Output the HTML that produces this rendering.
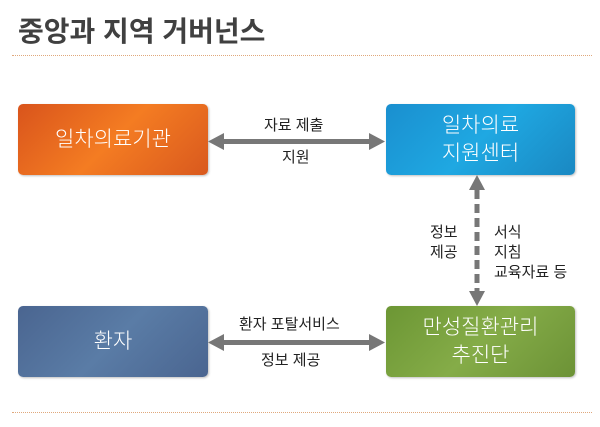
<!DOCTYPE html>
<html><head><meta charset="utf-8"><style>
body{margin:0;width:600px;height:427px;background:#fff;overflow:hidden;position:relative;font-family:"Liberation Sans","Noto Sans CJK KR",sans-serif;}
.t{position:absolute;left:18px;top:10px;font-size:28px;font-weight:bold;color:#404040;letter-spacing:0px;}
.dot{position:absolute;left:12px;width:580px;border-top:1.5px dotted #e0a87c;}
.b{position:absolute;border-radius:5px;color:#fff;font-size:21px;font-weight:300;display:flex;align-items:center;justify-content:center;text-align:center;line-height:28px;box-shadow:1px 1px 2px rgba(0,0,0,.25);}
.l{position:absolute;font-size:15px;color:#222;line-height:20px;}
</style></head><body>
<div class="t">중앙과 지역 거버넌스</div>
<div class="dot" style="top:55px"></div>
<div class="dot" style="top:412px"></div>
<div class="b" style="left:18px;top:104px;width:190px;height:71px;background:linear-gradient(135deg,#d9541c,#f47c22 50%,#d9591e)">일차의료기관</div>
<div class="b" style="left:386px;top:104px;width:189px;height:71px;background:linear-gradient(135deg,#1a8fcf,#1fa8e2 50%,#1a88c2)">일차의료<br>지원센터</div>
<div class="b" style="left:18px;top:306px;width:190px;height:71px;background:linear-gradient(135deg,#4a6590,#5a7ca6 50%,#4a6590)">환자</div>
<div class="b" style="left:386px;top:306px;width:189px;height:71px;background:linear-gradient(135deg,#6c9634,#85ac48 50%,#6c9236)">만성질환관리<br>추진단</div>
<svg width="600" height="427" style="position:absolute;left:0;top:0">
<g fill="#777" stroke="none">
<rect x="222" y="139" width="150" height="5"/>
<polygon points="208,141.5 224,133 224,150"/>
<polygon points="385,141.5 369,133 369,150"/>
<rect x="222" y="340" width="150" height="5"/>
<polygon points="208,342.5 224,334 224,351"/>
<polygon points="385,342.5 369,334 369,351"/>
<polygon points="477,175 469,190 485,190"/>
<polygon points="477,306 469,291 485,291"/>
</g>
<line x1="477" y1="190" x2="477" y2="291" stroke="#777" stroke-width="5" stroke-dasharray="9,5"/>
</svg>
<div class="l" style="left:264px;top:116px">자료 제출</div>
<div class="l" style="left:282px;top:148px">지원</div>
<div class="l" style="left:239px;top:315px">환자 포탈서비스</div>
<div class="l" style="left:261px;top:351px">정보 제공</div>
<div class="l" style="left:430px;top:223px">정보<br>제공</div>
<div class="l" style="left:494px;top:223px">서식<br>지침<br>교육자료 등</div>
</body></html>
